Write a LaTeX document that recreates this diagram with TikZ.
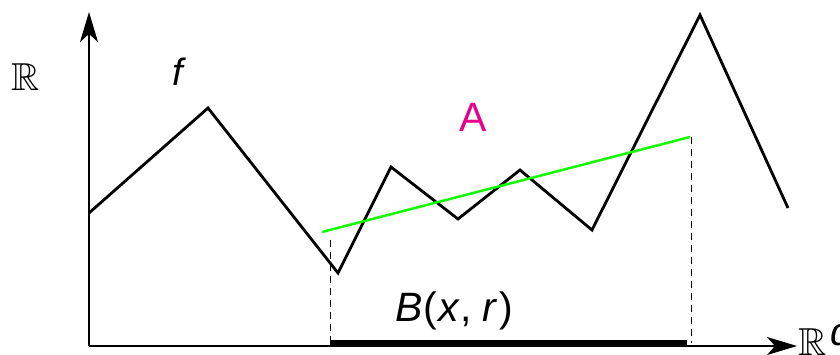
\documentclass[tikz,border=0pt]{standalone}
\usepackage{amssymb}
\usepackage{fontspec}
\setmainfont{Liberation Sans}
\usetikzlibrary{arrows.meta}
\begin{document}
\begin{tikzpicture}[x=1pt,y=-1pt,
  axis/.style={line width=1.5pt,-{Stealth[length=30pt,width=18pt,inset=8pt]}},
  graphline/.style={line width=2.8pt,line join=miter},
  fitline/.style={line width=2.5pt,green!90!lime},
  guide/.style={line width=1pt,dashed,dash pattern=on 7pt off 5pt},
  lbl/.style={inner sep=0pt}]
\useasboundingbox (0,0) rectangle (840,354);
\clip (0,0) rectangle (840,354);
\coordinate (O) at (89,346);
\coordinate (ytop) at (89,12);
\coordinate (xend) at (797,346);
\draw[axis] (O) -- (ytop);
\draw[axis] (O) -- (xend);
\coordinate (p1) at (89,213);
\coordinate (p2) at (208,108);
\coordinate (p3) at (338,273);
\coordinate (p4) at (391,167);
\coordinate (p5) at (458,219);
\coordinate (p6) at (520,170);
\coordinate (p7) at (592,230);
\coordinate (p8) at (700,15);
\coordinate (p9) at (788,208);
\draw[graphline] (p1) -- (p2) -- (p3) -- (p4) -- (p5) -- (p6) -- (p7) -- (p8) -- (p9);
\coordinate (g1) at (322,232);
\coordinate (g2) at (690,137);
\draw[fitline] (g1) -- (g2);
\coordinate (d1t) at (330,240);
\coordinate (d1b) at (330,343);
\coordinate (d2t) at (691,137);
\coordinate (d2b) at (691,343);
\draw[guide] (d1t) -- (d1b);
\draw[guide] (d2t) -- (d2b);
\coordinate (b1) at (330,342.5);
\coordinate (b2) at (687,342.5);
\draw[line width=5pt] (b1) -- (b2);
\node[lbl,font=\fontsize{39}{39}\selectfont] (R) at (26,77) {$\mathbb{R}$};
\node[lbl,font=\fontsize{38}{38}\selectfont\itshape] (f) at (178,72) {f};
\node[lbl,font=\fontsize{41}{41}\selectfont,text={rgb,255:red,230;green,0;blue,140}] (A) at (473,117) {A};
\node[lbl,font=\fontsize{41}{41}\selectfont,anchor=base west] (B) at (395,321) {\textit{B}\kern1pt(\kern1pt\textit{x}\kern1pt,\kern10pt\textit{r}\kern2pt)};
\node[lbl,font=\fontsize{39}{39}\selectfont,anchor=base west] (Rd) at (798,355) {$\mathbb{R}^{\kern4pt\textit{d}}$};
\end{tikzpicture}
\end{document}
